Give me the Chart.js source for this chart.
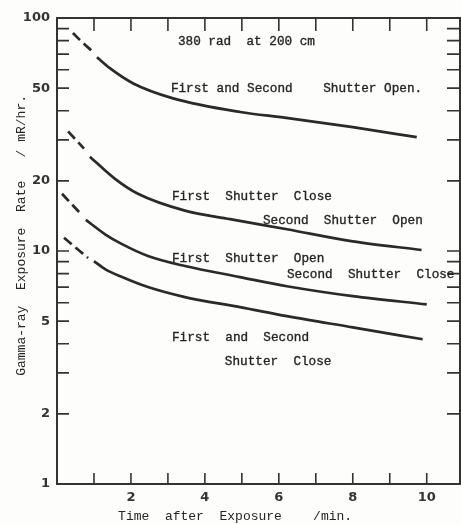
<!DOCTYPE html>
<html lang="en">
<head>
  <meta charset="UTF-8" />
  <title>Gamma-ray Exposure Rate</title>
  <style>
    html, body { margin: 0; padding: 0; background: #fdfdfc; }
    #wrap { width: 461px; height: 524px; }
  </style>
</head>
<body>
  <div id="wrap"><canvas id="grafico"></canvas></div>

<script src="https://cdn.jsdelivr.net/npm/chart.js@4.4.0/dist/chart.umd.min.js"></script>
<script>
  // First and Second Shutter Open
  const bothOpenDashX = [0.43, 0.68, 0.95];
  const bothOpenDashY = [86.2, 78.8, 72.1];
  const bothOpenX = [1.08, 1.43, 2.05, 3.14, 4.95, 6.2, 8.0, 9.73];
  const bothOpenY = [67.9, 60.9, 52.5, 45.2, 39.5, 37.3, 34.0, 30.8];

  // First Shutter Close / Second Shutter Open
  const closeOpenDashX = [0.30, 0.73];
  const closeOpenDashY = [32.6, 27.5];
  const closeOpenX = [0.89, 1.57, 2.19, 3.46, 4.68, 6.22, 8.0, 9.86];
  const closeOpenY = [25.4, 20.4, 17.6, 14.9, 13.7, 12.4, 11.0, 10.1];

  // First Shutter Open / Second Shutter Close
  const openCloseDashX = [0.135, 0.65];
  const openCloseDashY = [17.6, 14.4];
  const openCloseX = [0.78, 1.30, 1.76, 2.46, 3.46, 4.95, 6.22, 8.0, 10.0];
  const openCloseY = [13.6, 11.8, 10.7, 9.52, 8.62, 7.73, 7.06, 6.4, 5.9];

  // First and Second Shutter Close
  const bothCloseDashX = [0.19, 0.84];
  const bothCloseDashY = [11.4, 9.33];
  const bothCloseX = [1.0, 1.30, 1.76, 2.46, 3.46, 4.95, 6.22, 8.0, 9.89];
  const bothCloseY = [9.05, 8.36, 7.73, 7.0, 6.34, 5.74, 5.25, 4.7, 4.18];

  // ticks
  const xTickLabels = [2, 4, 6, 8, 10];
  const xTickMarks = [1, 2, 3, 4, 5, 6, 7, 8, 9, 10];
  const yTickLabels = [1, 2, 5, 10, 20, 50, 100];
  const yTickMarks = [2, 3, 4, 5, 6, 7, 8, 9, 10, 20, 30, 40, 50, 60, 70, 80, 90, 100];

  // texts inside the plot (left edge, middle line, in data units)
  const notas = [
    { text: '380 rad  at 200 cm', x: 3.27, y: 78.8 },
    { text: 'First and Second    Shutter Open.', x: 3.08, y: 49.9 },
    { text: 'First  Shutter  Close', x: 3.11, y: 17.1 },
    { text: 'Second  Shutter  Open', x: 5.57, y: 13.5 },
    { text: 'First  Shutter  Open', x: 3.11, y: 9.24 },
    { text: 'Second  Shutter  Close', x: 6.22, y: 7.88 },
    { text: 'First  and  Second', x: 3.11, y: 4.26 },
    { text: 'Shutter  Close', x: 4.54, y: 3.36 }
  ];

  const tinta = '#2a2a2a';
  const textoColor = '#252525';
  const letraMono = '"Liberation Mono", "DejaVu Sans Mono", monospace';

  function serie(xs, ys, dashed) {
    return {
      data: xs.map((v, i) => ({ x: v, y: ys[i] })),
      borderColor: tinta,
      borderWidth: 2.7,
      borderDash: dashed ? [10, 5] : [],
      pointRadius: 0,
      cubicInterpolationMode: 'monotone',
      fill: false
    };
  }

  const marco = {
    id: 'marco',
    afterDraw(chart) {
      const { ctx, chartArea: a, scales: { x, y } } = chart;
      ctx.save();
      ctx.strokeStyle = '#333';
      ctx.lineWidth = 2;
      ctx.strokeRect(a.left, a.top, a.right - a.left, a.bottom - a.top);

      ctx.lineWidth = 1.6;
      ctx.beginPath();
      yTickMarks.forEach(v => {
        const py = y.getPixelForValue(v);
        ctx.moveTo(a.left, py); ctx.lineTo(a.left + 12, py);
        ctx.moveTo(a.right, py); ctx.lineTo(a.right - 13, py);
      });
      xTickMarks.forEach(v => {
        const px = x.getPixelForValue(v);
        ctx.moveTo(px, a.bottom); ctx.lineTo(px, a.bottom - 11);
        ctx.moveTo(px, a.top); ctx.lineTo(px, a.top + 13);
      });
      ctx.stroke();

      // labels typed inside the plot
      ctx.font = '12.7px ' + letraMono;
      ctx.fillStyle = textoColor;
      ctx.strokeStyle = textoColor;
      ctx.lineWidth = 0.35;
      ctx.textBaseline = 'middle';
      ctx.textAlign = 'left';
      notas.forEach(n => {
        const px = x.getPixelForValue(n.x);
        const py = y.getPixelForValue(n.y);
        ctx.fillText(n.text, px, py);
        ctx.strokeText(n.text, px, py);
      });
      ctx.restore();
    }
  };

  new Chart(document.getElementById('grafico'), {
    type: 'line',
    data: {
      datasets: [
        serie(bothOpenDashX, bothOpenDashY, true),
        serie(bothOpenX, bothOpenY, false),
        serie(closeOpenDashX, closeOpenDashY, true),
        serie(closeOpenX, closeOpenY, false),
        serie(openCloseDashX, openCloseDashY, true),
        serie(openCloseX, openCloseY, false),
        serie(bothCloseDashX, bothCloseDashY, true),
        serie(bothCloseX, bothCloseY, false)
      ]
    },
    options: {
      responsive: true,
      maintainAspectRatio: false,
      animation: false,
      layout: { padding: { top: 18, right: 1, left: 0, bottom: 0 } },
      plugins: { legend: { display: false }, tooltip: { enabled: false } },
      scales: {
        x: {
          type: 'linear',
          min: 0,
          max: 10.9,
          afterBuildTicks: s => { s.ticks = xTickLabels.map(v => ({ value: v })); },
          afterFit: s => { s.height = 40; },
          grid: { display: false, drawTicks: false },
          border: { display: false },
          ticks: {
            padding: 6,
            color: '#333',
            font: { family: '"DejaVu Sans"', size: 13, weight: 'bold' },
            callback: v => String(v)
          },
          title: {
            display: true,
            text: 'Time  after  Exposure    /min.      ',
            color: textoColor,
            font: { family: letraMono, size: 13 },
            padding: { top: 0, bottom: 0 }
          }
        },
        y: {
          type: 'logarithmic',
          min: 1,
          max: 100,
          afterBuildTicks: s => { s.ticks = yTickLabels.map(v => ({ value: v })); },
          afterFit: s => { s.width = 57; },
          grid: { display: false, drawTicks: false },
          border: { display: false },
          ticks: {
            padding: 7,
            color: '#333',
            font: { family: '"DejaVu Sans"', size: 13, weight: 'bold' },
            callback: v => String(v)
          },
          title: {
            display: true,
            text: '    Gamma-ray  Exposure  Rate   / mR/hr.',
            color: textoColor,
            font: { family: letraMono, size: 13 },
            padding: { top: 14, bottom: 0 }
          }
        }
      }
    },
    plugins: [marco]
  });
</script>
</body>
</html>
